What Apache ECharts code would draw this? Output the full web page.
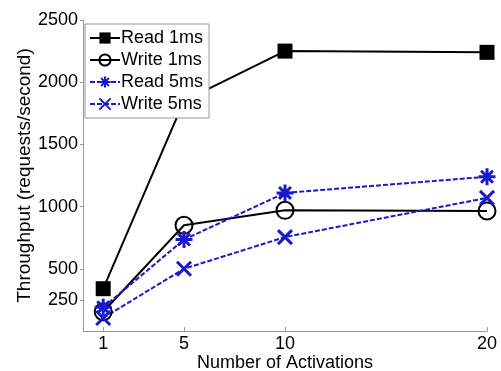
<!DOCTYPE html>
<html>
<head>
<meta charset="utf-8">
<script src="https://cdn.jsdelivr.net/npm/echarts@6/dist/echarts.min.js"></script>
<style>
  html, body { margin: 0; padding: 0; background: #fff; }
  #chart { width: 501px; height: 371px; }
</style>
</head>
<body>
<div id="chart"></div>
<script>
  // activations on x, throughput (requests/second) on y
  var activations = [1, 5, 10, 20];
  var read1ms = [340, 1850, 2250, 2240];
  var write1ms = [155, 850, 970, 965];
  var read5ms = [190, 735, 1110, 1240];
  var write5ms = [105, 500, 755, 1070];
  var xTicks = [1, 5, 10, 20];
  var yTicks = [250, 500, 1000, 1500, 2000, 2500];

  var blue = '#1a1acc';
  var asterisk = 'path://M0,-10L0,10M-10,0L10,0M-7,-7L7,7M-7,7L7,-7';
  var cross = 'path://M-8,-8L8,8M-8,8L8,-8';

  function pairs(ys) {
    return activations.map(function (x, i) { return [x, ys[i]]; });
  }

  var chart = echarts.init(document.getElementById('chart'));
  chart.setOption({
    animation: false,
    textStyle: { fontFamily: 'Liberation Sans, Arial, sans-serif' },
    grid: { left: 83, right: 14, top: 20, bottom: 40, outerBoundsMode: 'none' },
    legend: {
      orient: 'vertical',
      left: 85,
      top: 24,
      padding: [5, 6, 5, 4],
      itemWidth: 30,
      itemHeight: 14,
      itemGap: 4,
      borderColor: '#999',
      borderWidth: 1,
      backgroundColor: '#fff',
      textStyle: { fontSize: 18, color: '#000', padding: [0, 0, 0, -4] },
      data: ['Read 1ms', 'Write 1ms', 'Read 5ms', 'Write 5ms']
    },
    xAxis: {
      type: 'value',
      min: 0,
      max: 20,
      name: 'Number of Activations',
      nameLocation: 'middle',
      nameGap: 23,
      nameMoveOverlap: false,
      nameTextStyle: { fontSize: 18, color: '#000' },
      axisLine: { lineStyle: { color: '#999' } },
      axisTick: { inside: true, length: 4, customValues: xTicks, lineStyle: { color: '#999' } },
      axisLabel: { customValues: xTicks, fontSize: 18, color: '#000', margin: 4 },
      splitLine: { show: false }
    },
    yAxis: {
      type: 'value',
      min: 0,
      max: 2500,
      name: 'Throughput (requests/second)',
      nameLocation: 'middle',
      nameGap: 49,
      nameMoveOverlap: false,
      nameTextStyle: { fontSize: 19, color: '#000' },
      axisLine: { show: true, lineStyle: { color: '#999' } },
      axisTick: { show: true, length: 3, customValues: yTicks, lineStyle: { color: '#999' } },
      axisLabel: {
        customValues: yTicks, fontSize: 18, color: '#000', margin: 5,
        formatter: function (v) { return String(v); }
      },
      splitLine: { show: false }
    },
    series: [{
      name: 'Read 1ms',
      type: 'line',
      data: pairs(read1ms),
      symbol: 'rect',
      symbolSize: 15,
      lineStyle: { color: '#000', width: 2 },
      itemStyle: { color: '#000' }
    }, {
      name: 'Write 1ms',
      type: 'line',
      data: pairs(write1ms),
      symbol: 'circle',
      symbolSize: 17,
      lineStyle: { color: '#000', width: 2 },
      itemStyle: { color: 'transparent', borderColor: '#000', borderWidth: 2 }
    }, {
      name: 'Read 5ms',
      type: 'line',
      data: pairs(read5ms),
      symbol: asterisk,
      symbolSize: 17,
      lineStyle: { color: blue, width: 2, type: [5, 2] },
      itemStyle: { color: 'transparent', borderColor: blue, borderWidth: 3 }
    }, {
      name: 'Write 5ms',
      type: 'line',
      data: pairs(write5ms),
      symbol: cross,
      symbolSize: 14,
      lineStyle: { color: blue, width: 2, type: [5, 2] },
      itemStyle: { color: 'transparent', borderColor: blue, borderWidth: 3 }
    }]
  });
</script>
</body>
</html>
